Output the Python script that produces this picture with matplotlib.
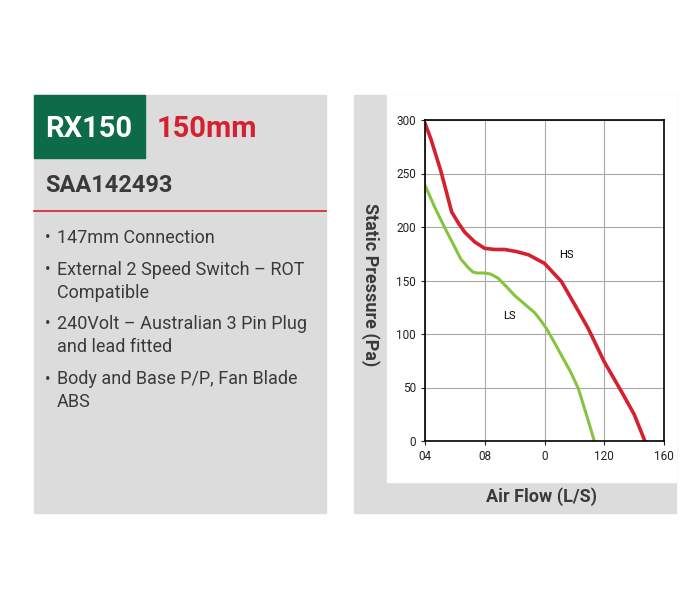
import matplotlib
matplotlib.use("Agg")
import matplotlib.pyplot as plt
from matplotlib.patches import Rectangle

hs_flow = [40, 43, 45, 48, 50, 53.4, 57, 60, 65, 70, 75, 80, 86, 92, 100, 104, 108.5, 115, 122, 130, 138.7, 145, 150.4]
hs_pres = [297, 282, 270, 252, 238, 214, 203, 195, 186, 180, 179, 179, 177, 174, 166, 158, 149, 128, 105, 74, 46, 25, 0]
ls_flow = [40, 45, 50, 55, 58, 61.7, 64, 66, 70, 73, 76.8, 81, 85, 90, 95, 98, 101, 105, 108.5, 113, 117, 121, 125]
ls_pres = [239, 218, 199, 181, 170, 162, 158, 157, 157, 156, 152, 144, 136, 128, 120, 113, 105, 92, 80, 65, 49, 25, 0]
x_ticks = [40, 70, 100, 130, 160]
x_labels = ["04", "08", "0", "120", "160"]
y_ticks = [0, 50, 100, 150, 200, 250, 300]
bullets = [["147mm Connection"], ["External 2 Speed Switch – ROT", "Compatible"],
           ["240Volt – Australian 3 Pin Plug", "and lead fitted"], ["Body and Base P/P, Fan Blade", "ABS"]]

W, H = 700, 600
fig = plt.figure(figsize=(7, 6), dpi=100)
fig.patch.set_facecolor("white")
plt.rcParams['font.family'] = ['Roboto', 'DejaVu Sans']

def fx(x): return x / W
def fy(y): return 1 - y / H

bg = fig.add_axes([0, 0, 1, 1]); bg.set_xlim(0, W); bg.set_ylim(H, 0); bg.axis("off")
gray = "#dcdcdc"
txt = "#3a3a3a"
bg.add_patch(Rectangle((34, 95), 292, 418, color=gray))
bg.add_patch(Rectangle((34, 95), 111, 63, color="#0d6b47"))
bg.text(89, 129, "RX150", color="white", fontsize=21, fontweight="bold", ha="center", va="center")
bg.text(157, 129, "150mm", color="#d4202f", fontsize=21, fontweight="bold", ha="left", va="center")
bg.text(45, 186, "SAA142493", color=txt, fontsize=17, fontweight="bold", ha="left", va="center")
bg.plot([34, 326], [211, 211], color="#d4202f", lw=1.2)
ys = [238, 270, 324, 379]
for y, lines in zip(ys, bullets):
    bg.text(45, y, "•", color=txt, fontsize=12, va="center")
    for i, l in enumerate(lines):
        bg.text(57, y + 23 * i, l, color=txt, fontsize=13, va="center")
bg.add_patch(Rectangle((354, 95), 322, 418, color=gray))
bg.add_patch(Rectangle((387, 95), 289, 387, color="white"))
bg.text(370, 285, "Static Pressure (Pa)", rotation=270, fontsize=13, fontweight="bold",
        color=txt, ha="center", va="center")
bg.text(542, 497, "Air Flow (L/S)", fontsize=13, fontweight="bold", color=txt,
        ha="center", va="center")

ax = fig.add_axes([fx(425), fy(441), (664 - 425) / W, (441 - 120) / H])
ax.set_xlim(40, 160); ax.set_ylim(0, 300)
ax.set_xticks(x_ticks); ax.set_xticklabels(x_labels)
ax.set_yticks(y_ticks)
ax.grid(True, color="#a8a8a8", lw=0.8)
for s in ax.spines.values():
    s.set_linewidth(1.2)
ax.tick_params(labelsize=8.5, length=3, colors="#222222")
ax.plot(hs_flow, hs_pres, color="#d4202f", lw=2.6, solid_joinstyle="round", solid_capstyle="round")
ax.plot(ls_flow, ls_pres, color="#86c440", lw=2.2, solid_joinstyle="round", solid_capstyle="round")
ax.text(111, 174, "HS", fontsize=8, ha="center", va="center")
ax.text(82.6, 117, "LS", fontsize=8, ha="center", va="center")
fig.savefig("out.png", dpi=100)
